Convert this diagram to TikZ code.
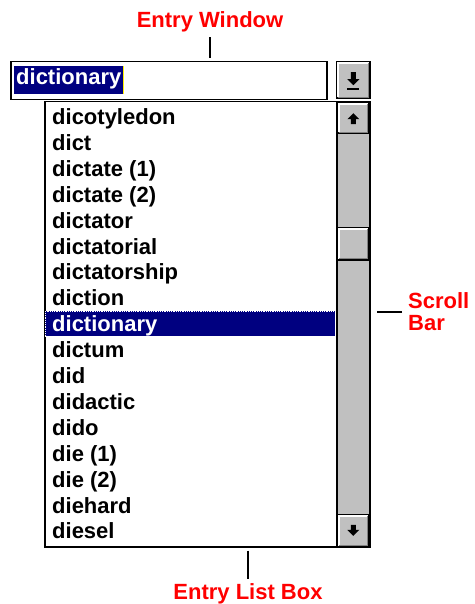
\documentclass[tikz,border=0pt]{standalone}
\usepackage{fontspec}
\setmainfont{Liberation Sans}
\definecolor{navy}{RGB}{0,0,128}
\definecolor{btngray}{RGB}{192,192,192}
\definecolor{shadow}{RGB}{128,128,128}
\definecolor{callout}{RGB}{255,0,0}
\tikzset{
  frame/.style={draw=black, line width=1.5pt, anchor=north west, inner sep=0pt},
  button/.style={frame, fill=btngray},
  item/.style={anchor=base west, inner sep=0pt, font=\fontsize{22}{24}\selectfont\bfseries},
  label/.style={text=callout, inner sep=0pt, font=\fontsize{22}{22}\selectfont\bfseries},
  pointer/.style={draw=black, line width=1.2pt}
}
% white/grey bevel of a button node
\newcommand\bevel[1]{%
  \draw[white, line width=1.5pt] ([shift={(2,-2)}]#1.south west) -- ([shift={(2,2)}]#1.north west) -- ([shift={(-2,2)}]#1.north east);
  \draw[shadow, line width=1.5pt] ([shift={(2,-2)}]#1.south west) -- ([shift={(-2,-2)}]#1.south east) -- ([shift={(-2,2)}]#1.north east);
}
\begin{document}
\begin{tikzpicture}[x=1pt, y=-1pt]
  \useasboundingbox (0,0) rectangle (474,604);

  % entry window with drop-down button
  \node[frame, fill=white, minimum width=316pt, minimum height=38pt] (entry) at (10,61) {};
  \node[item, anchor=west, fill=navy, text=white, inner xsep=2pt, text height=16pt, text depth=6pt,
        minimum height=28pt] (entrytext) at (14,80) {dictionary};
  \draw[yellow, line width=1.5pt] (entrytext.north east) -- (entrytext.south east);
  \node[button, minimum width=33pt, minimum height=37pt] (drop) at (336,61) {};
  \bevel{drop}
  \fill[shift={(drop.center)}] (-6,-1) -- (6,-1) -- (0,5) -- cycle (-2.5,-1) rectangle (2.5,-8);
  \draw[shift={(drop.center)}, line width=1.5pt] (-6,9) -- (6,9);

  % entry list box and scroll bar
  \node[frame, fill=white, minimum width=325pt, minimum height=445pt] (list) at (44,101) {};
  \node[button, minimum width=33pt, minimum height=445pt] (sbar) at (336,101) {};
  \node[button, minimum width=31pt, minimum height=31pt] (up) at (337,102) {};
  \node[button, minimum width=31pt, minimum height=32pt] (thumb) at (337,227) {};
  \node[button, minimum width=31pt, minimum height=32pt] (down) at (337,514) {};
  \bevel{up}
  \bevel{thumb}
  \bevel{down}
  \fill[shift={(up.center)}] (-6,1) -- (0,-5) -- (6,1) -- cycle (-2.5,1) rectangle (2.5,6);
  \fill[shift={(down.center)}] (-6,-1) -- (6,-1) -- (0,5) -- cycle (-2.5,-1) rectangle (2.5,-6);

  % selected row
  \node[fill=navy, draw=white, densely dotted, line width=0.8pt, anchor=north west, inner sep=0pt,
        minimum width=290pt, minimum height=25pt] (sel) at (45,311) {};

  \foreach \w [count=\i] in {dicotyledon, dict, {dictate (1)}, {dictate (2)}, dictator,
      dictatorial, dictatorship, diction, dictionary, dictum, did, didactic, dido,
      {die (1)}, {die (2)}, diehard, diesel} {
    \ifnum\i=9
      \node[item, text=white] (item\i) at (52,{124.5+(\i-1)*25.9}) {\w};
    \else
      \node[item] (item\i) at (52,{124.5+(\i-1)*25.9}) {\w};
    \fi
  }

  % callouts
  \node[label] (lentry) at (210,22) {Entry Window};
  \node[label, align=left, anchor=west] (lsbar) at (408,312) {Scroll\\Bar};
  \node[label] (llist) at (248,594) {Entry List Box};

  \draw[pointer] ([yshift=-5pt]lentry.south) -- ([yshift=3pt]entry.north -| lentry.south);
  \draw[pointer] ([xshift=-6pt]lsbar.west) -- ([xshift=6pt]lsbar.west -| sbar.east);
  \draw[pointer] ([yshift=-3pt]list.south -| llist.north) -- ([yshift=5pt]llist.north);
\end{tikzpicture}
\end{document}
